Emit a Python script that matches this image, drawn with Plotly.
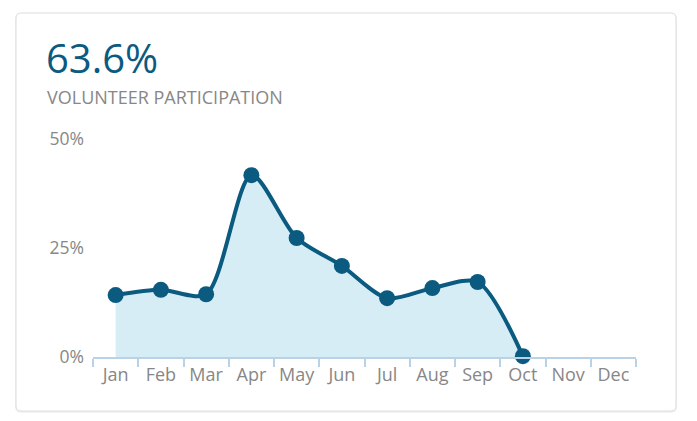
import plotly.graph_objects as go

months = ["Jan", "Feb", "Mar", "Apr", "May", "Jun", "Jul", "Aug", "Sep", "Oct", "Nov", "Dec"]
values = [14.2, 15.4, 14.4, 41.7, 27.3, 20.9, 13.5, 15.8, 17.2, 0.2, None, None]
y_ticks = [0, 25, 50]
y_tick_labels = ["0%", "25%", "50%"]
headline = "63.6%"
subtitle = "VOLUNTEER PARTICIPATION"

W, H = 697, 421
L, R, T, B = 93, 61, 139, 64
pw, ph = W - L - R, H - T - B

def px(x):
    return (x - L) / pw

def py(y):
    return (H - B - y) / ph

def rounded(x0, y0, x1, y1, r):
    p = lambda x, y: f"{px(x):.5f},{py(y):.5f}"
    return (f"M {p(x0+r, y0)} L {p(x1-r, y0)} Q {p(x1, y0)} {p(x1, y0+r)} "
            f"L {p(x1, y1-r)} Q {p(x1, y1)} {p(x1-r, y1)} "
            f"L {p(x0+r, y1)} Q {p(x0, y1)} {p(x0, y1-r)} "
            f"L {p(x0, y0+r)} Q {p(x0, y0)} {p(x0+r, y0)} Z")

line_color = "#0b5a80"
fig = go.Figure()
fig.add_trace(go.Scatter(
    x=months[:10], y=values[:10], mode="lines+markers",
    line=dict(color=line_color, width=4, shape="spline", smoothing=0.8),
    marker=dict(color=line_color, size=16),
    fill="tozeroy", fillcolor="#d6edf6",
    cliponaxis=False, hoverinfo="skip",
))
fig.add_trace(go.Scatter(x=months, y=[None]*12, mode="lines", showlegend=False, hoverinfo="skip"))

shapes = [
    dict(type="path", xref="paper", yref="paper", path=rounded(15, 13, 677, 413, 6),
         fillcolor="rgba(0,0,0,0.05)", line=dict(width=0), layer="below"),
    dict(type="path", xref="paper", yref="paper", path=rounded(16, 13, 676, 411, 5),
         fillcolor="white", line=dict(color="#dcdcdc", width=1), layer="below"),
]

fig.update_layout(
    width=W, height=H, margin=dict(l=L, r=R, t=T, b=B),
    paper_bgcolor="white", plot_bgcolor="rgba(0,0,0,0)",
    showlegend=False, shapes=shapes,
    font=dict(family="Open Sans", color="#878787"),
    annotations=[
        dict(text=headline, xref="paper", yref="paper", x=px(44), y=py(58), xanchor="left",
             yanchor="middle", showarrow=False, font=dict(size=40, color="#0b5a80", family="Open Sans")),
        dict(text=subtitle, xref="paper", yref="paper", x=px(45), y=py(97), xanchor="left",
             yanchor="middle", showarrow=False, font=dict(size=18, color="#878787", family="Open Sans")),
    ],
)
fig.update_xaxes(
    type="category", categoryorder="array", categoryarray=months, range=[-0.5, 11.5],
    showgrid=False, showline=True, linecolor="#b9d2e6", linewidth=2,
    ticks="outside", tickcolor="#b9d2e6", ticklen=8, tickwidth=2, tickangle=0,
    tickson="boundaries", tickfont=dict(size=18, color="#878787"), zeroline=False,
    ticklabelstandoff=0,
)
fig.update_yaxes(
    range=[0, 50], tickvals=y_ticks, ticktext=y_tick_labels, showgrid=False,
    zeroline=False, showline=False, tickfont=dict(size=17.5, color="#878787"), ticklabelstandoff=8,
)
fig.write_html("out.html")
